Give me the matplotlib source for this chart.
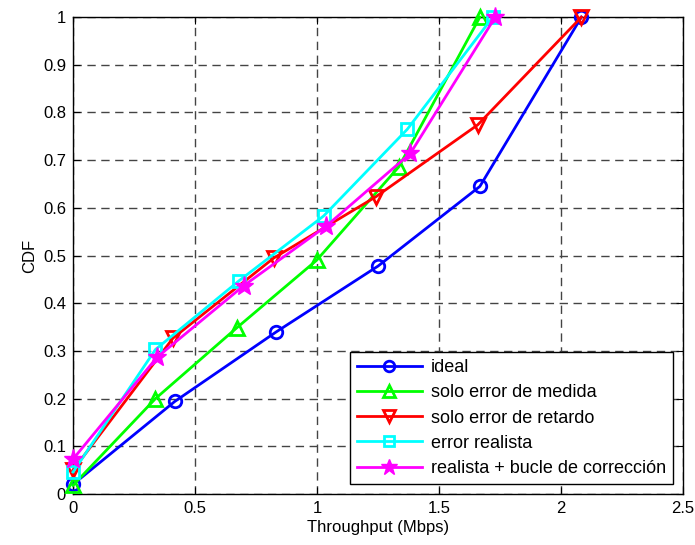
import matplotlib
matplotlib.use("Agg")
import matplotlib.pyplot as plt

plt.rcParams['font.family'] = ['Liberation Sans', 'DejaVu Sans']

ideal_x = [0, 0.417, 0.833, 1.25, 1.667, 2.083]
ideal_y = [0.02, 0.194, 0.34, 0.478, 0.645, 1.0]
medida_x = [0, 0.338, 0.67, 0.998, 1.335, 1.667]
medida_y = [0.018, 0.2, 0.348, 0.49, 0.686, 1.0]
retardo_x = [0, 0.41, 0.823, 1.24, 1.658, 2.083]
retardo_y = [0.05, 0.327, 0.495, 0.623, 0.774, 1.0]
realista_x = [0, 0.338, 0.68, 1.027, 1.37, 1.72]
realista_y = [0.046, 0.303, 0.447, 0.583, 0.765, 1.0]
bucle_x = [0, 0.345, 0.7, 1.038, 1.382, 1.73]
bucle_y = [0.073, 0.287, 0.437, 0.562, 0.714, 1.0]

labels = ['ideal', 'solo error de medida', 'solo error de retardo',
          'error realista', 'realista + bucle de corrección']
xticks = [0, 0.5, 1, 1.5, 2, 2.5]
yticks = [0, 0.1, 0.2, 0.3, 0.4, 0.5, 0.6, 0.7, 0.8, 0.9, 1]
ytick_labels = ['0', '0.1', '0.2', '0.3', '0.4', '0.5', '0.6', '0.7', '0.8', '0.9', '1']

fig = plt.figure(figsize=(6.95, 5.45), dpi=100)
ax = fig.add_axes([0.105, 0.0936, 0.878, 0.875])

kw = dict(lw=2, clip_on=False, zorder=3)
ax.plot(ideal_x, ideal_y, color='#0000ff', marker='o', ms=9, mfc='none', mew=2, label=labels[0], **kw)
ax.plot(medida_x, medida_y, color='#00ff00', marker='^', ms=10, mfc='none', mew=2, label=labels[1], **kw)
ax.plot(retardo_x, retardo_y, color='#ff0000', marker='v', ms=10, mfc='none', mew=2, label=labels[2], **kw)
ax.plot(realista_x, realista_y, color='#00ffff', marker='s', ms=9, mfc='none', mew=2, label=labels[3], **kw)
ax.plot(bucle_x, bucle_y, color='#ff00ff', marker='*', ms=14, mfc='#ff00ff', mew=1, label=labels[4], **kw)

ax.set_xlim(0, 2.5)
ax.set_ylim(0, 1)
ax.set_xticks(xticks)
ax.set_xticklabels(['0', '0.5', '1', '1.5', '2', '2.5'])
ax.set_yticks(yticks)
ax.set_yticklabels(ytick_labels)
ax.tick_params(direction='in', length=5, labelsize=12, top=True, right=True, pad=5)
ax.grid(True, color='#444444', linestyle=(0, (6, 4)), linewidth=1)
for s in ax.spines.values():
    s.set_linewidth(1)
ax.set_xlabel('Throughput (Mbps)', fontsize=12, labelpad=3)
ax.set_ylabel('CDF', fontsize=12)

leg = ax.legend(loc='lower right', fontsize=13, fancybox=False, framealpha=1,
                edgecolor='black', handlelength=3.6, borderaxespad=0.55,
                labelspacing=0.45, borderpad=0.4, handletextpad=0.5,
                markerscale=0.85)
leg.get_frame().set_linewidth(1)

fig.savefig('out.png', dpi=100)
